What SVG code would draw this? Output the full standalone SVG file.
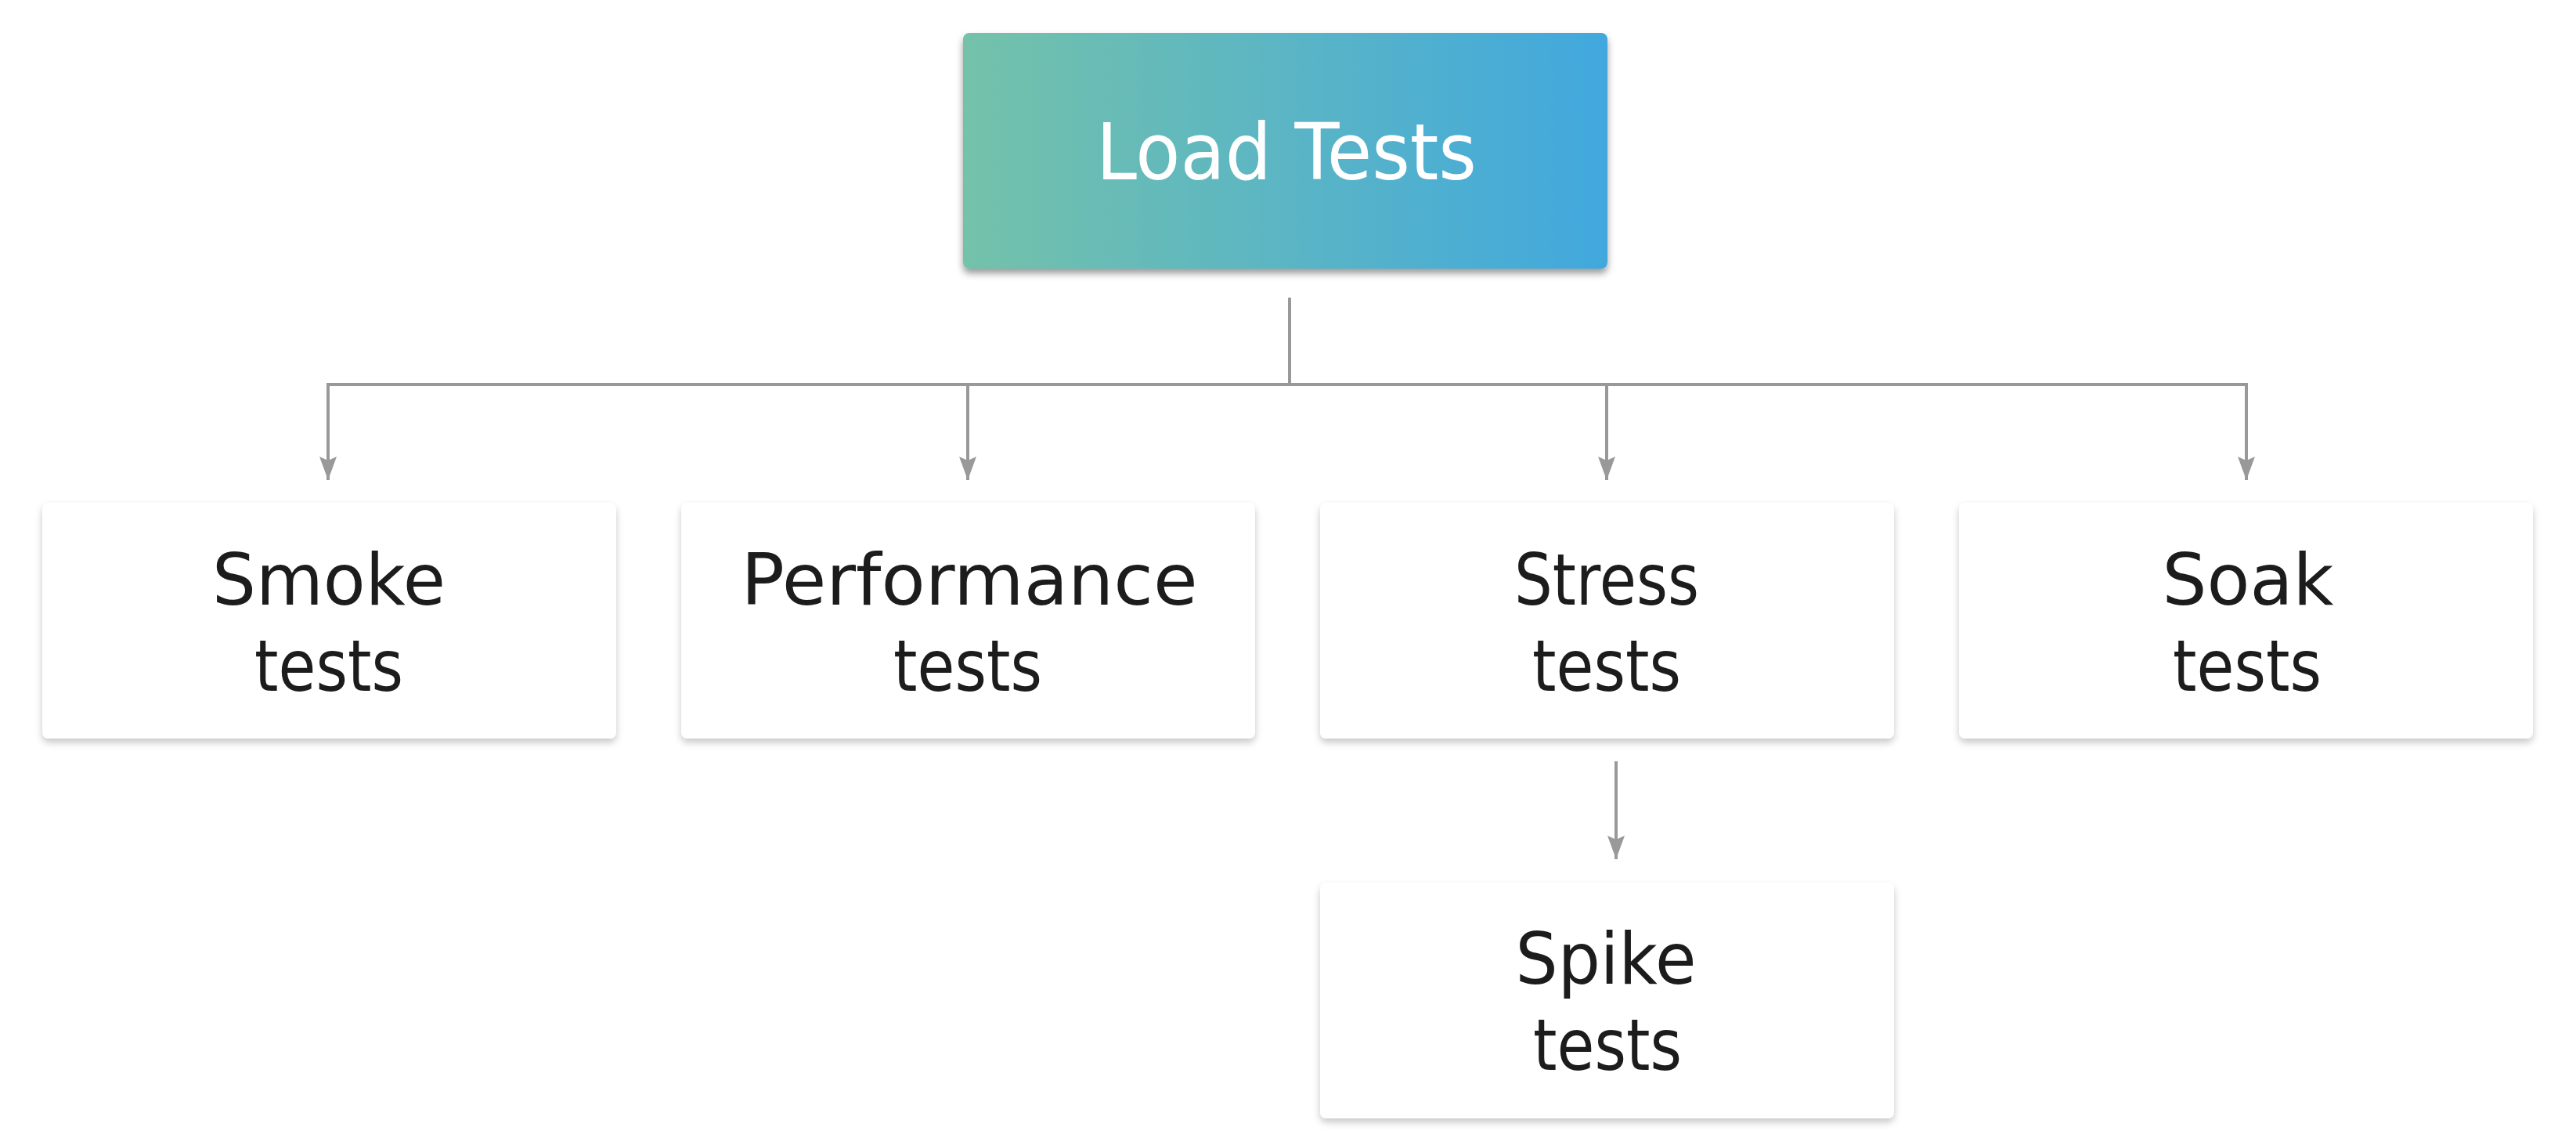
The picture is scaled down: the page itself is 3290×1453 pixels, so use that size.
<svg xmlns="http://www.w3.org/2000/svg" width="3290" height="1453" viewBox="0 0 3290 1453">
  <defs>
    <linearGradient id="grad" x1="0" y1="0" x2="1" y2="0">
      <stop offset="0" stop-color="#74C2AA"/>
      <stop offset="1" stop-color="#41A8DE"/>
    </linearGradient>
    <filter id="shadowTop" x="-5%" y="-10%" width="110%" height="125%">
      <feDropShadow dx="0" dy="6" stdDeviation="5" flood-color="#000" flood-opacity="0.4"/>
    </filter>
    <filter id="shadowBox" x="-5%" y="-10%" width="110%" height="125%">
      <feDropShadow dx="0" dy="5" stdDeviation="5" flood-color="#000" flood-opacity="0.22"/>
    </filter>
    <marker id="arrow" viewBox="0 0 30 22" refX="30" refY="11" markerWidth="30" markerHeight="22" markerUnits="userSpaceOnUse" orient="auto">
      <path d="M0,0 L30,11 L0,22 L5,11 z" fill="#999999"/>
    </marker>
  </defs>
  <style>
    .box { fill: #ffffff; filter: url(#shadowBox); }
    .label { font-family: "DejaVu Sans", "Liberation Sans", sans-serif; font-size: 90px; fill: #1c1c1c; text-anchor: middle; }
    .title { font-family: "DejaVu Sans", "Liberation Sans", sans-serif; font-size: 100px; fill: #ffffff; text-anchor: middle; }
    .conn { stroke: #999999; stroke-width: 4; fill: none; }
  </style>
  <rect width="3290" height="1453" fill="#ffffff"/>

  <g id="connectors">
    <path class="conn" d="M1647,380 V491"/>
    <path class="conn" d="M419,491 H2869"/>
    <path class="conn" d="M419,489 V613" marker-end="url(#arrow)"/>
    <path class="conn" d="M1236,491 V613" marker-end="url(#arrow)"/>
    <path class="conn" d="M2052,491 V613" marker-end="url(#arrow)"/>
    <path class="conn" d="M2869,489 V613" marker-end="url(#arrow)"/>
    <path class="conn" d="M2064,972 V1097" marker-end="url(#arrow)"/>
  </g>

  <g id="load-tests">
    <rect x="1230" y="42" width="823" height="301" rx="8" fill="url(#grad)" filter="url(#shadowTop)"/>
    <text class="title" x="1643" y="229" textLength="486" lengthAdjust="spacingAndGlyphs">Load Tests</text>
  </g>

  <g id="smoke-tests">
    <rect class="box" x="54" y="642" width="733" height="301" rx="8"/>
    <text class="label" x="420" y="772" textLength="298" lengthAdjust="spacingAndGlyphs">Smoke</text>
    <text class="label" x="420" y="882" textLength="190" lengthAdjust="spacingAndGlyphs">tests</text>
  </g>

  <g id="performance-tests">
    <rect class="box" x="870" y="642" width="733" height="301" rx="8"/>
    <text class="label" x="1238" y="772" textLength="583" lengthAdjust="spacingAndGlyphs">Performance</text>
    <text class="label" x="1236" y="882" textLength="190" lengthAdjust="spacingAndGlyphs">tests</text>
  </g>

  <g id="stress-tests">
    <rect class="box" x="1686" y="642" width="733" height="301" rx="8"/>
    <text class="label" x="2052" y="772" textLength="236" lengthAdjust="spacingAndGlyphs">Stress</text>
    <text class="label" x="2052" y="882" textLength="190" lengthAdjust="spacingAndGlyphs">tests</text>
  </g>

  <g id="soak-tests">
    <rect class="box" x="2502" y="642" width="733" height="301" rx="8"/>
    <text class="label" x="2871" y="772" textLength="219" lengthAdjust="spacingAndGlyphs">Soak</text>
    <text class="label" x="2870" y="882" textLength="190" lengthAdjust="spacingAndGlyphs">tests</text>
  </g>

  <g id="spike-tests">
    <rect class="box" x="1686" y="1127" width="733" height="301" rx="8"/>
    <text class="label" x="2051" y="1256" textLength="231" lengthAdjust="spacingAndGlyphs">Spike</text>
    <text class="label" x="2053" y="1366" textLength="190" lengthAdjust="spacingAndGlyphs">tests</text>
  </g>
</svg>
